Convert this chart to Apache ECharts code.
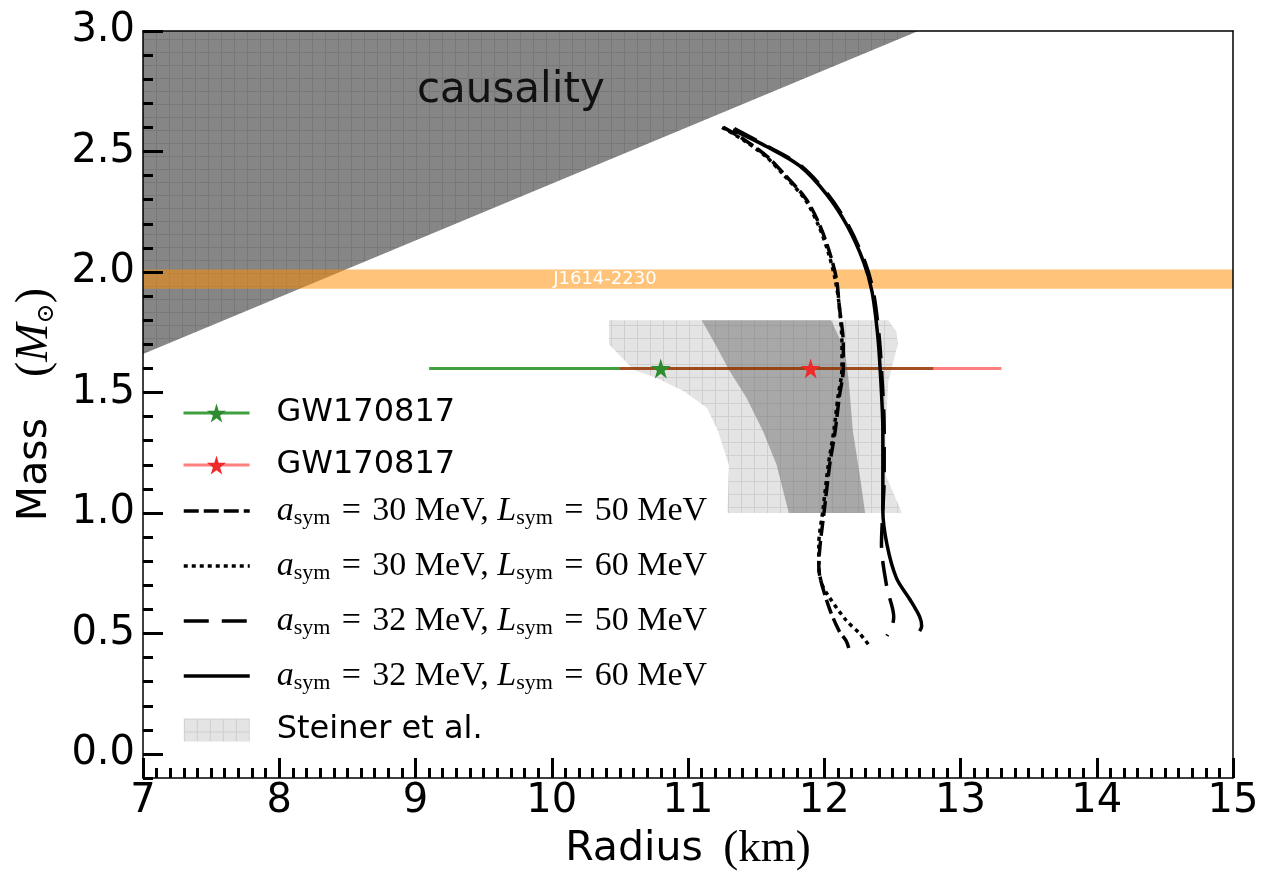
<!DOCTYPE html>
<html>
<head>
<meta charset="utf-8">
<script src="https://cdn.jsdelivr.net/npm/echarts@6/dist/echarts.min.js"></script>
<style>
  html, body { margin: 0; padding: 0; background: #fff; }
  #chart { width: 1263px; height: 877px; }
</style>
</head>
<body>
<div id="chart"></div>
<script>
// Neutron-star mass–radius relations with observational constraints.

// Axis tick values
const massTicks = [0.0, 0.5, 1.0, 1.5, 2.0, 2.5, 3.0];

// Causality limit (region above the line is excluded)
const causalityR = [7.0, 12.69, 7.0];
const causalityM = [1.66, 3.0, 3.0];
const causalityLabelAt = [9.70, 2.75];

// PSR J1614-2230 mass band
const pulsarMass = [1.93, 2.01];
const pulsarLabel = 'J1614-2230';
const pulsarLabelAt = [10.39, 1.97];

// Steiner et al. constraint: outer (light) and inner (dark) regions
const steinerOuterR = [10.42, 12.47, 12.53, 12.54, 12.47, 12.45, 12.45, 12.57, 11.29, 11.30, 11.22, 11.14, 10.97, 10.77, 10.60, 10.42];
const steinerOuterM = [1.80, 1.80, 1.752, 1.70, 1.546, 1.34, 1.16, 1.00, 1.00, 1.20, 1.34, 1.436, 1.505, 1.56, 1.594, 1.70];
const steinerInnerR = [11.10, 12.05, 12.15, 12.18, 12.21, 12.26, 12.30, 11.74, 11.65, 11.55, 11.43, 11.30, 11.20];
const steinerInnerM = [1.80, 1.80, 1.68, 1.546, 1.34, 1.16, 1.00, 1.00, 1.20, 1.34, 1.477, 1.594, 1.70];

// GW170817 radius estimates at 1.6 Msun: [low, central, high]
const gwMass = 1.6;
const gwGreen = [9.1, 10.8, 12.8];
const gwRed = [10.5, 11.9, 13.3];

// M-R curves: [R (km), M (Msun)]
const curveA30L50 = [[11.26,2.60],[11.41,2.55],[11.58,2.48],[11.70,2.41],[11.87,2.30],[11.97,2.19],[12.04,2.08],[12.09,1.97],[12.11,1.86],[12.14,1.70],[12.14,1.60],[12.11,1.48],[12.08,1.34],[12.04,1.20],[12.00,1.01],[11.97,0.87],[11.96,0.78],[11.97,0.73],[12.04,0.60],[12.11,0.51],[12.16,0.47],[12.18,0.44]];
const curveA30L60 = [[11.25,2.60],[11.40,2.55],[11.57,2.48],[11.69,2.41],[11.86,2.30],[11.96,2.19],[12.03,2.08],[12.08,1.97],[12.11,1.86],[12.13,1.70],[12.13,1.60],[12.10,1.48],[12.07,1.34],[12.03,1.20],[11.99,1.01],[11.96,0.87],[11.96,0.78],[11.98,0.71],[12.02,0.665],[12.16,0.555],[12.26,0.50],[12.33,0.45]];
const curveA32L50 = [[11.34,2.595],[11.59,2.52],[11.83,2.44],[12.03,2.32],[12.18,2.19],[12.30,2.04],[12.36,1.92],[12.40,1.75],[12.42,1.60],[12.44,1.34],[12.44,1.15],[12.43,1.01],[12.42,0.87],[12.46,0.69],[12.51,0.57],[12.50,0.535],[12.46,0.49]];
const curveA32L60 = [[11.33,2.59],[11.58,2.52],[11.82,2.44],[12.02,2.32],[12.17,2.19],[12.29,2.04],[12.35,1.92],[12.39,1.75],[12.41,1.60],[12.43,1.34],[12.43,1.15],[12.43,1.01],[12.46,0.87],[12.53,0.73],[12.63,0.64],[12.70,0.57],[12.715,0.53],[12.70,0.51]];

// Legend text for the curves
const curveNames = ['a30L50', 'a30L60', 'a32L50', 'a32L60'];
const asymValues = ['30', '30', '32', '32'];
const lsymValues = ['50', '60', '50', '60'];

const SANS = 'DejaVu Sans';
const SERIF = 'Liberation Serif';
const STAR = 'path://M50,0 L61,35 L98,35 L68,57 L79,91 L50,70 L21,91 L32,57 L2,35 L39,35 Z';
const EQ = '\u2004=\u2004';

// small square-grid hatch tile
function hatch(base, line, step) {
  const c = document.createElement('canvas');
  c.width = step; c.height = step;
  const g = c.getContext('2d');
  g.fillStyle = base; g.fillRect(0, 0, step, step);
  g.fillStyle = line; g.fillRect(0, 0, step, 1); g.fillRect(0, 0, 1, step);
  return { type: 'pattern', image: c, repeat: 'repeat' };
}
const causalityFill = hatch('#868686', '#787878', 13);
const steinerFill = hatch('#e4e4e4', '#cfcfcf', 13);

function zip(rs, ms) { return rs.map((r, i) => [r, ms[i]]); }

function polygonSeries(name, pts, fill, z) {
  return {
    type: 'custom', name: name, z: z, silent: true, clip: true,
    data: [pts[0]],
    itemStyle: { color: fill },
    renderItem: (params, api) => ({
      type: 'polygon',
      shape: { points: pts.map(p => api.coord(p)) },
      style: { fill: fill }
    })
  };
}

function textSeries(text, at, style, z) {
  return {
    type: 'custom', silent: true, z: z, data: [at],
    renderItem: (params, api) => {
      const p = api.coord(at);
      return { type: 'text', x: p[0], y: p[1],
        style: Object.assign({ text: text, align: 'center', verticalAlign: 'middle' }, style) };
    }
  };
}

function gwSeries(name, vals, lineColor, starColor) {
  return {
    type: 'line', name: name, z: 4, symbol: STAR, symbolSize: 20,
    data: [
      { value: [vals[0], gwMass], symbol: 'none' },
      { value: [vals[1], gwMass] },
      { value: [vals[2], gwMass], symbol: 'none' }
    ],
    lineStyle: { color: lineColor, width: 3 },
    itemStyle: { color: starColor },
    emphasis: { disabled: true }
  };
}

function curveSeries(name, pts, dash) {
  return {
    type: 'line', name: name, z: 6, data: pts, symbol: 'none', showSymbol: false,
    smooth: 0.3,
    lineStyle: { color: '#000', width: 3.5, type: dash },
    itemStyle: { color: '#000' },
    emphasis: { disabled: true }
  };
}

const axisBlack = { color: '#000', width: 1.5 };
const tickStyle = { color: '#000', width: 3 };

const curveLegendItems = curveNames.map(n => ({ name: n, itemStyle: { opacity: 0 }, lineStyle: { width: 3.5 } }));

const option = {
  animation: false,
  backgroundColor: '#fff',
  grid: { left: 143, right: 30, top: 31, bottom: 95 },
  xAxis: [
    {
      type: 'value', min: 7, max: 15, interval: 1, z: 10,
      name: '{r|Radius\u2002}{k|(km)}', nameLocation: 'middle', nameGap: 47,
      nameTextStyle: { rich: {
        r: { fontFamily: SANS, fontSize: 41, color: '#000' },
        k: { fontFamily: SERIF, fontSize: 45, color: '#000' }
      } },
      axisLine: { show: true, onZero: false, lineStyle: axisBlack },
      axisTick: { show: true, inside: true, length: 20, lineStyle: tickStyle },
      minorTick: { show: true, splitNumber: 10, length: 10, lineStyle: tickStyle },
      axisLabel: { fontFamily: SANS, fontSize: 40, color: '#000', margin: 4 },
      splitLine: { show: false }, minorSplitLine: { show: false }
    },
    {
      type: 'value', min: 7, max: 15, position: 'top', z: 10,
      axisLine: { show: true, onZero: false, lineStyle: axisBlack },
      axisTick: { show: false }, axisLabel: { show: false }, splitLine: { show: false }
    }
  ],
  yAxis: [
    {
      type: 'value', min: -0.1, max: 3.0, z: 10,
      name: '{r|Mass\u2003}{k|(}{i|M}{o|⊙}{k|)}', nameLocation: 'middle', nameRotate: 90, nameGap: 84,
      nameTextStyle: { rich: {
        r: { fontFamily: SANS, fontSize: 41, color: '#000', lineHeight: 48 },
        k: { fontFamily: SERIF, fontSize: 46, color: '#000', lineHeight: 48 },
        i: { fontFamily: SERIF, fontStyle: 'italic', fontSize: 46, color: '#000', lineHeight: 48 },
        o: { fontFamily: 'DejaVu Serif', fontSize: 24, color: '#000', lineHeight: 24, verticalAlign: 'bottom' }
      } },
      axisLine: { show: true, onZero: false, lineStyle: axisBlack },
      axisTick: { show: true, inside: true, length: 20, lineStyle: tickStyle, customValues: massTicks },
      axisLabel: { fontFamily: SANS, fontSize: 40, color: '#000', margin: 8, customValues: massTicks,
        formatter: v => v.toFixed(1) },
      splitLine: { show: false }
    },
    {
      type: 'value', min: -0.1, max: 3.0, interval: 0.1, position: 'left', z: 10,
      axisLine: { show: false },
      axisTick: { show: true, inside: true, length: 10, lineStyle: tickStyle },
      axisLabel: { show: false }, splitLine: { show: false }
    },
    {
      type: 'value', min: -0.1, max: 3.0, position: 'right', z: 10,
      axisLine: { show: true, onZero: false, lineStyle: axisBlack },
      axisTick: { show: false }, axisLabel: { show: false }, splitLine: { show: false }
    }
  ],
  legend: [
    {
      data: [
        { name: 'GW170817', lineStyle: { width: 3 } },
        { name: 'GW170817 ', lineStyle: { width: 3 } }
      ],
      orient: 'vertical', left: 182, top: 397, padding: 0,
      itemWidth: 66, itemHeight: 24, itemGap: 20, selectedMode: false,
      formatter: n => '{g|' + n.trim() + '}',
      textStyle: { rich: {
        g: { fontFamily: SANS, fontSize: 32, color: '#000', lineHeight: 31, padding: [0, 0, 0, 22] }
      } }
    },
    {
      data: curveLegendItems.concat([{ name: 'Steiner et al.', icon: 'rect' }]),
      orient: 'vertical', left: 182, top: 494, padding: 0,
      itemWidth: 66, itemHeight: 23, itemGap: 20, selectedMode: false,
      formatter: name => {
        const i = curveNames.indexOf(name);
        if (i < 0) return '{g|' + name + '}';
        return '{m0|a}{s|sym}{t|' + EQ + asymValues[i] + ' MeV, }{m|L}{s|sym}{t|' + EQ + lsymValues[i] + ' MeV}';
      },
      textStyle: { rich: {
        g: { fontFamily: SANS, fontSize: 32, color: '#000', lineHeight: 36, padding: [0, 0, 0, 22] },
        m0: { fontFamily: SERIF, fontStyle: 'italic', fontSize: 34, color: '#000', lineHeight: 36, padding: [0, 0, 0, 22] },
        m: { fontFamily: SERIF, fontStyle: 'italic', fontSize: 34, color: '#000', lineHeight: 36 },
        s: { fontFamily: SERIF, fontSize: 22, color: '#000', lineHeight: 20, verticalAlign: 'bottom' },
        t: { fontFamily: SERIF, fontSize: 34, color: '#000', lineHeight: 36 }
      } }
    }
  ],
  series: [
    polygonSeries('causality', zip(causalityR, causalityM), causalityFill, 1),
    textSeries('causality', causalityLabelAt, { fontFamily: SANS, fontSize: 42, fill: '#111' }, 2),
    polygonSeries('Steiner et al.', zip(steinerOuterR, steinerOuterM), steinerFill, 1),
    polygonSeries('steinerInner', zip(steinerInnerR, steinerInnerM), 'rgba(95,95,95,0.45)', 1),
    polygonSeries('pulsar', [[7, pulsarMass[0]], [15, pulsarMass[0]], [15, pulsarMass[1]], [7, pulsarMass[1]]], 'rgba(255,140,0,0.52)', 3),
    textSeries(pulsarLabel, pulsarLabelAt, { fontFamily: SANS, fontSize: 18, fill: '#fff' }, 3),
    gwSeries('GW170817', gwGreen, 'rgba(0,128,0,0.75)', '#2e8b2e'),
    gwSeries('GW170817 ', gwRed, 'rgba(255,0,0,0.5)', '#ee2a2a'),
    curveSeries('a30L50', curveA30L50, [15, 5]),
    curveSeries('a30L60', curveA30L60, [4, 4]),
    curveSeries('a32L50', curveA32L50, [25, 13]),
    curveSeries('a32L60', curveA32L60, 'solid')
  ]
};

const chart = echarts.init(document.getElementById('chart'));
chart.setOption(option);
</script>
</body>
</html>
